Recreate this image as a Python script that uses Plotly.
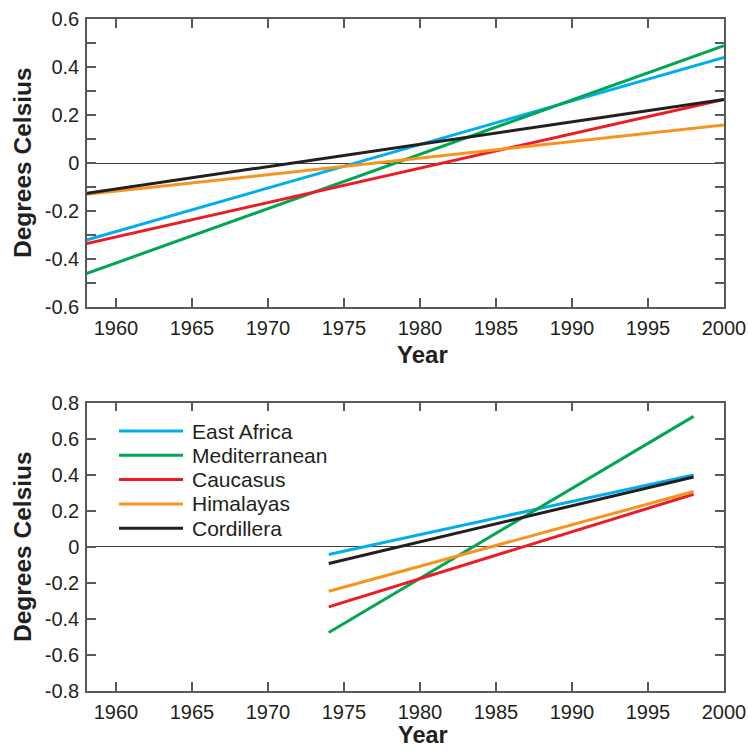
import plotly.graph_objects as go

# ---- data ----
regions = ["East Africa", "Mediterranean", "Caucasus", "Himalayas", "Cordillera"]
colors = ["#00AEEF", "#00A651", "#ED1C24", "#F7941D", "#231F20"]

top_years = [1958, 2000]
top_values = {
    "East Africa":   [-0.322, 0.440],
    "Mediterranean": [-0.462, 0.489],
    "Caucasus":      [-0.337, 0.265],
    "Himalayas":     [-0.131, 0.158],
    "Cordillera":    [-0.127, 0.265],
}

bot_years = [1974, 1998]
bot_values = {
    "East Africa":   [-0.042, 0.399],
    "Mediterranean": [-0.475, 0.724],
    "Caucasus":      [-0.333, 0.292],
    "Himalayas":     [-0.246, 0.307],
    "Cordillera":    [-0.092, 0.388],
}

x_ticks = [1960, 1965, 1970, 1975, 1980, 1985, 1990, 1995, 2000]
top_y_ticks = [-0.6, -0.4, -0.2, 0, 0.2, 0.4, 0.6]
top_y_labels = ["-0.6", "-0.4", "-0.2", "0", "0.2", "0.4", "0.6"]
bot_y_ticks = [-0.8, -0.6, -0.4, -0.2, 0, 0.2, 0.4, 0.6, 0.8]
bot_y_labels = ["-0.8", "-0.6", "-0.4", "-0.2", "0", "0.2", "0.4", "0.6", "0.8"]

# ---- figure ----
FONT = "Liberation Sans, Arial, Helvetica, sans-serif"
TXT = "#231F20"
AX = "#58595B"

fig = go.Figure()
for name, col in zip(regions, colors):
    fig.add_trace(go.Scatter(x=top_years, y=top_values[name], mode="lines",
                             line=dict(color=col, width=3), name=name,
                             showlegend=False, xaxis="x", yaxis="y"))
for name, col in zip(regions, colors):
    fig.add_trace(go.Scatter(x=bot_years, y=bot_values[name], mode="lines",
                             line=dict(color=col, width=3), name=name,
                             showlegend=False, xaxis="x2", yaxis="y2"))

W, H = 748, 750
L, R, T, B = 87, 24, 19, 59
pw, ph = W - L - R, H - T - B

def py(p):  # page pixel y -> paper
    return (H - B - p) / ph

def px(p):  # page pixel x -> paper
    return (p - L) / pw

common_x = dict(range=[1958.1, 2000], tickvals=x_ticks, ticks="inside", ticklen=9,
                tickwidth=1.5, tickcolor=AX, showline=True, linecolor=AX, linewidth=1.5,
                mirror="ticks", showgrid=False, zeroline=False, ticklabelstandoff=2,
                automargin=False,
                tickfont=dict(family=FONT, size=20, color=TXT))
common_y = dict(ticks="inside", ticklen=9, tickwidth=1.5, tickcolor=AX, showline=True,
                linecolor=AX, linewidth=1.5, mirror="ticks", showgrid=False,
                zeroline=True, zerolinecolor="#414042", zerolinewidth=1,
                ticklabelstandoff=2, automargin=False,
                tickfont=dict(family=FONT, size=20, color=TXT))

fig.update_layout(
    width=W, height=H,
    margin=dict(l=L, r=R, t=T, b=B, autoexpand=False),
    paper_bgcolor="white", plot_bgcolor="white",
    showlegend=False,
    xaxis=dict(common_x, domain=[0, 1], anchor="y"),
    yaxis=dict(common_y, domain=[py(307), 1], anchor="x", range=[-0.6, 0.6],
               tickvals=top_y_ticks, ticktext=top_y_labels,
               minor=dict(dtick=0.1, tick0=0, ticks="inside", ticklen=9,
                          tickwidth=1.5, tickcolor=AX)),
    xaxis2=dict(common_x, domain=[0, 1], anchor="y2"),
    yaxis2=dict(common_y, domain=[0, py(402.7)], anchor="x2", range=[-0.8, 0.8],
                tickvals=bot_y_ticks, ticktext=bot_y_labels),
)

annotations = []
for ycenter in [163, 547]:
    annotations.append(dict(text="<b>Degrees Celsius</b>", xref="paper", yref="paper",
                            x=px(22), y=py(ycenter), textangle=-90, showarrow=False,
                            xanchor="center", yanchor="middle",
                            font=dict(family=FONT, size=24.5, color=TXT)))
annotations.append(dict(text="<b>Year</b>", xref="x", yref="paper", x=1980.2,
                        y=py(354), yanchor="middle", xanchor="center", showarrow=False,
                        font=dict(family=FONT, size=24, color=TXT)))
annotations.append(dict(text="<b>Year</b>", xref="x2", yref="paper", x=1980.2,
                        y=py(750), yanchor="bottom", xanchor="center", showarrow=False,
                        font=dict(family=FONT, size=23.5, color=TXT)))

# manual legend (bottom panel)
shapes = []
leg_y0 = 431
leg_dy = 24.3
for i, (name, col) in enumerate(zip(regions, colors)):
    yy = leg_y0 + i * leg_dy
    shapes.append(dict(type="line", xref="paper", yref="paper",
                       x0=px(119), x1=px(183), y0=py(yy), y1=py(yy),
                       line=dict(color=col, width=3)))
    annotations.append(dict(text=name, xref="paper", yref="paper", x=px(190), y=py(yy),
                            xanchor="left", yanchor="middle", showarrow=False,
                            font=dict(family=FONT, size=21, color=TXT)))

fig.update_layout(annotations=annotations, shapes=shapes)
fig.write_html("out.html",
               config={"displayModeBar": False},
               post_script="document.body.style.margin='0';document.body.style.overflow='hidden';")
